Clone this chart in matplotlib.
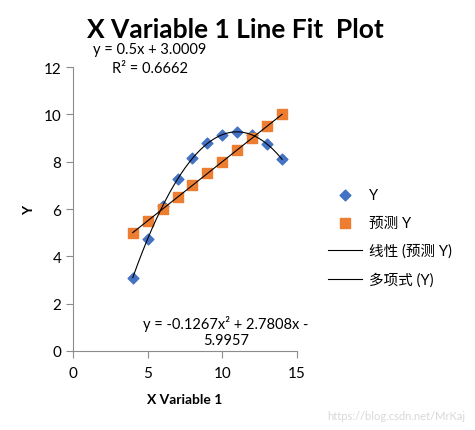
import numpy as np
import matplotlib.pyplot as plt

plt.rcParams['font.family'] = ['Lato', 'Noto Sans CJK SC', 'DejaVu Sans']

# data
x = [4, 5, 6, 7, 8, 9, 10, 11, 12, 13, 14]
y = [3.10, 4.74, 6.13, 7.26, 8.14, 8.77, 9.14, 9.26, 9.13, 8.74, 8.10]
y_pred = [5.0009, 5.5009, 6.0009, 6.5009, 7.0009, 7.5009, 8.0009, 8.5009, 9.0009, 9.5009, 10.0009]
x_ticks = [0, 5, 10, 15]
y_ticks = [0, 2, 4, 6, 8, 10, 12]

fig = plt.figure(figsize=(4.75, 4.31), dpi=100)
ax = fig.add_axes([0.1537, 0.1833, 0.4716, 0.6589])

ax.scatter(x, y, marker='D', s=30, color='#4472C4', zorder=3, label='Y')
ax.scatter(x, y_pred, marker='s', s=55, color='#ED7D31', zorder=3, label='预测 Y')

# trendlines
lin = np.polyfit(x, y_pred, 1)
xx = np.linspace(min(x), max(x), 200)
ax.plot(xx, np.polyval(lin, xx), color='black', lw=0.8, zorder=4, label='线性 (预测 Y)')
poly = np.polyfit(x, y, 2)
ax.plot(xx, np.polyval(poly, xx), color='black', lw=0.8, zorder=4, label='多项式 (Y)')

ax.set_xlim(0, 15)
ax.set_ylim(0, 12)
ax.set_xticks(x_ticks)
ax.set_yticks(y_ticks)
for s in ['top', 'right']:
    ax.spines[s].set_visible(False)
for s in ['left', 'bottom']:
    ax.spines[s].set_color('#8c8c8c')
ax.tick_params(colors='#8c8c8c', labelcolor='black', labelsize=11, length=5)
ax.tick_params(axis='x', pad=6)

ax.set_xlabel('X Variable 1', fontsize=10, fontweight='bold', labelpad=9)
ax.set_ylabel('Y', fontsize=10, fontweight='bold', labelpad=6)

fig.text(0.495, 0.93, 'X Variable 1 Line Fit  Plot', ha='center', va='center',
         fontsize=19, fontweight='bold')

# trendline equations
ax.text(5.15, 12.75, 'y = 0.5x + 3.0009', ha='center', va='center', fontsize=10.5)
ax.text(5.15, 11.95, 'R² = 0.6662', ha='center', va='center', fontsize=10.5)
ax.text(10.25, 1.2, 'y = -0.1267x² + 2.7808x -', ha='center', va='center', fontsize=10.5)
ax.text(10.25, 0.45, '5.9957', ha='center', va='center', fontsize=10.5)

ax.legend(loc='center left', bbox_to_anchor=(1.08, 0.4), frameon=False,
          fontsize=10.5, handlelength=2.3, labelspacing=0.95, handletextpad=0.5)

fig.text(0.98, 0.02, 'https://blog.csdn.net/MrKaj', ha='right', va='bottom',
         fontsize=8, color='#d8d8d8')

fig.savefig('out.png', dpi=100)
